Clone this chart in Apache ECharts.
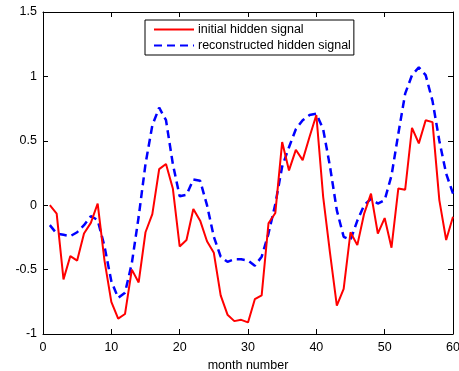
<!DOCTYPE html>
<html>
<head>
<meta charset="utf-8">
<title>hidden signal</title>
<script src="https://cdn.jsdelivr.net/npm/echarts@6/dist/echarts.min.js"></script>
<style>
html, body { margin: 0; padding: 0; background: #fff; }
#main { width: 459px; height: 371px; }
</style>
</head>
<body>
<div id="main"></div>
<script>
// month index, 1..60
var months = [];
for (var m = 1; m <= 60; m++) { months.push(m); }

// values
var initialSignal = [0, -0.065, -0.576, -0.395, -0.43, -0.22, -0.137, 0.013, -0.43, -0.75,
	-0.88, -0.845, -0.50, -0.60, -0.21, -0.07, 0.28, 0.32, 0.13, -0.32,
	-0.27, -0.03, -0.12, -0.28, -0.37, -0.70, -0.85, -0.90, -0.89, -0.91,
	-0.73, -0.70, -0.14, -0.06, 0.49, 0.27, 0.43, 0.35, 0.53, 0.70,
	0.065, -0.37, -0.78, -0.65, -0.21, -0.31, -0.065, 0.09, -0.22, -0.10,
	-0.33, 0.13, 0.12, 0.60, 0.48, 0.66, 0.645, 0.04, -0.27, -0.09];

var reconstructedSignal = [-0.155, -0.22, -0.23, -0.24, -0.21, -0.155, -0.085, -0.115, -0.32, -0.59,
	-0.72, -0.68, -0.45, -0.09, 0.32, 0.62, 0.757, 0.66, 0.32, 0.07,
	0.08, 0.20, 0.19, 0.0, -0.245, -0.40, -0.44, -0.42, -0.42, -0.43,
	-0.47, -0.40, -0.22, 0.01, 0.30, 0.45, 0.59, 0.66, 0.70, 0.71,
	0.59, 0.30, -0.04, -0.245, -0.27, -0.12, 0.0, 0.05, 0.013, 0.04,
	0.23, 0.555, 0.866, 1.01, 1.07, 1.01, 0.81, 0.50, 0.245, 0.09];

var seriesNames = ['initial hidden signal', 'reconstructed hidden signal'];
var xTicks = [0, 10, 20, 30, 40, 50, 60];
var yTicks = [-1, -0.5, 0, 0.5, 1, 1.5];

function pairs(xs, ys) {
	var out = [];
	for (var i = 0; i < xs.length; i++) { out.push([xs[i], ys[i]]); }
	return out;
}

var font = 'Liberation Sans, Arial, Helvetica, sans-serif';

/**
 * one axis with inward ticks, labels optional (matlab box style)
 */
function makeAxis(pos, min, max, step, showLabel, name) {
	return {
		type: 'value',
		position: pos,
		min: min,
		max: max,
		interval: step,
		name: name || '',
		nameLocation: 'middle',
		nameGap: 21,
		nameTextStyle: { color: '#000', fontSize: 12.5, fontFamily: font },
		axisLine: { show: true, onZero: false, lineStyle: { color: '#000', width: 1 } },
		axisTick: { show: true, inside: true, length: 5, lineStyle: { color: '#000' } },
		axisLabel: {
			show: showLabel,
			color: '#000',
			fontSize: 12.5,
			fontFamily: font,
			margin: (pos == 'bottom') ? 7 : 6,
			formatter: function (v) { return String(v); }
		},
		splitLine: { show: false }
	};
}

var chart = echarts.init(document.getElementById('main'));
chart.setOption({
	animation: false,
	backgroundColor: '#fff',
	grid: { left: 43, right: 6, top: 12, bottom: 37, containLabel: false, outerBoundsMode: 'none' },
	xAxis: [
		makeAxis('bottom', xTicks[0], xTicks[xTicks.length - 1], 10, true, 'month number'),
		makeAxis('top', xTicks[0], xTicks[xTicks.length - 1], 10, false)
	],
	yAxis: [
		makeAxis('left', yTicks[0], yTicks[yTicks.length - 1], 0.5, true),
		makeAxis('right', yTicks[0], yTicks[yTicks.length - 1], 0.5, false)
	],
	legend: {
		data: seriesNames,
		orient: 'vertical',
		left: 145,
		top: 20,
		itemWidth: 40,
		itemHeight: 14,
		itemGap: 3,
		padding: [3, 3, 3, 8],
		borderColor: '#000',
		borderWidth: 1,
		backgroundColor: '#fff',
		itemStyle: { opacity: 0 },
		textStyle: { color: '#000', fontSize: 12.5, fontFamily: font, padding: [0, 0, 0, -1] }
	},
	series: [{
		name: seriesNames[0],
		type: 'line',
		data: pairs(months, initialSignal),
		symbol: 'none',
		lineStyle: { color: '#ff0000', width: 2 },
		itemStyle: { color: '#ff0000' },
		z: 3
	}, {
		name: seriesNames[1],
		type: 'line',
		data: pairs(months, reconstructedSignal),
		symbol: 'none',
		lineStyle: { color: '#0000ff', width: 2.5, type: [8, 5] },
		itemStyle: { color: '#0000ff' },
		z: 2
	}]
});
</script>
</body>
</html>
